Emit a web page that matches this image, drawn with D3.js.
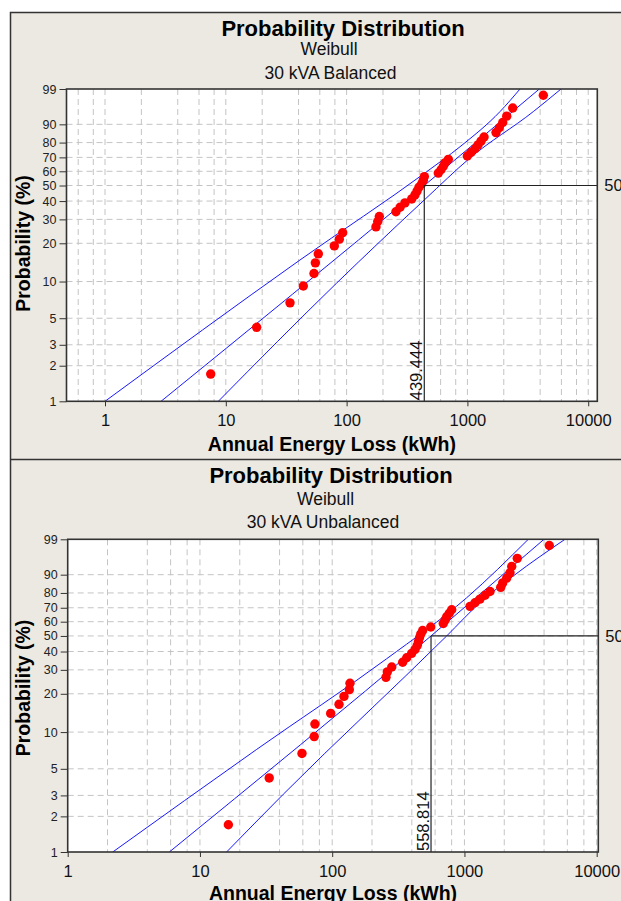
<!DOCTYPE html>
<html><head><meta charset="utf-8">
<script src="https://cdn.jsdelivr.net/npm/d3@7"></script>
<style>body{margin:0;background:#fff;} svg{display:block;}</style>
</head><body>
<svg id="chart" width="621" height="901"></svg>
<script>
// ---------------- data ----------------
const probTicks = [1, 2, 3, 5, 10, 20, 30, 40, 50, 60, 70, 80, 90, 99];
const lossTicks = [1, 10, 100, 1000, 10000];
const medianLevel = 50;

// plotting positions (%) (same for both panels)
const plotPositions = [1.7, 4.2, 6.7, 9.2, 11.6, 14.1, 16.6, 19.1, 21.5, 24.0,
  26.5, 29.0, 31.4, 33.9, 36.4, 38.9, 41.3, 43.8, 46.3, 48.8,
  51.2, 53.7, 56.2, 58.7, 61.1, 63.6, 66.1, 68.6, 71.0, 73.5,
  76.0, 78.5, 80.9, 83.4, 85.9, 88.4, 90.8, 93.3, 95.8, 98.3];

// 30 kVA Balanced
const balancedLoss = [7.5, 18.0, 34.0, 43.8, 53.7, 55.1, 58.3, 79.1, 87.0, 92.8,
  175, 181, 186.5, 256, 277, 304, 346, 368, 383, 397,
  418.5, 431.5, 440, 574, 605, 632, 652, 695, 998, 1071,
  1156, 1224, 1296, 1373, 1725, 1837, 1960, 2115, 2371, 4250];
const balancedRange = [0.48, 11890];
const balancedMedian = 439.444;
const balancedFit = [[2.91, 1], [439.444, 50], [3937, 99]];
const balancedUpper = [[1, 1], [41.1, 14.85], [460, 59.7], [868, 77.3], [1862, 94.8], [2725, 99]];
const balancedLower = [[8.67, 1], [82.8, 9.73], [446, 41.1], [1051, 69.6], [3512, 94.8], [5955, 99]];

// 30 kVA Unbalanced
const unbalancedLoss = [16.4, 33.4, 59.1, 73.1, 74, 97.4, 112.6, 122.8, 134.7, 136.3,
  255, 261, 282, 341, 366, 399, 423, 440, 449, 457,
  467, 483, 556, 692, 713, 734, 768, 801, 1102, 1202,
  1311, 1430, 1561, 1880, 1946, 2087, 2210, 2277, 2509, 4381];
const unbalancedRange = [1, 10283];
const unbalancedMedian = 558.814;
const unbalancedFit = [[5.87, 1], [558.814, 50], [3995, 99]];
const unbalancedUpper = [[2.19, 1], [26.9, 7.24], [258, 35.8], [1040, 76.9], [3039, 99]];
const unbalancedLower = [[15.9, 1], [42.7, 3.07], [734, 50], [1311, 73.5], [2341, 89.4], [5758, 99]];

const chartTitle = "Probability Distribution";
const distName = "Weibull";
const xTitle = "Annual Energy Loss (kWh)";
const yTitle = "Probability (%)";

// ---------------- layout ----------------
const FONT = "'Liberation Sans', Arial, sans-serif";
const BG = "#ECE9E2";
const layouts = [
  {x0: 66.5, x1: 597.3, y0: 89, y1: 401.3, titleX: 343, titleY: 35.5, distX: 329, distY: 55,
   subX: 330.5, subY: 78.5, xLabelY: 451, yLabelX: 30, yLabelY: 243.5},
  {x0: 67.7, x1: 598.3, y0: 539.3, y1: 852, titleX: 331, titleY: 482.5, distX: 325.5, distY: 505,
   subX: 323, subY: 527.5, xLabelY: 900, yLabelX: 30, yLabelY: 688}
];
const panels = [
  {sub: "30 kVA Balanced", loss: balancedLoss, range: balancedRange, median: balancedMedian,
   fit: balancedFit, upper: balancedUpper, lower: balancedLower},
  {sub: "30 kVA Unbalanced", loss: unbalancedLoss, range: unbalancedRange, median: unbalancedMedian,
   fit: unbalancedFit, upper: unbalancedUpper, lower: unbalancedLower}
];

const svg = d3.select("#chart");
svg.append("rect").attr("width", 621).attr("height", 901).attr("fill", "#fff");
svg.append("rect").attr("x", 10.5).attr("y", 12.5).attr("width", 700).attr("height", 1000)
  .attr("fill", BG).attr("stroke", "#333").attr("stroke-width", 1.5);
svg.append("line").attr("x1", 10.5).attr("x2", 621).attr("y1", 459.5).attr("y2", 459.5)
  .attr("stroke", "#333").attr("stroke-width", 1.5);

const weib = p => Math.log(-Math.log(1 - p / 100));

panels.forEach((P, k) => {
  const L = layouts[k];
  const g = svg.append("g");
  const x = d3.scaleLog().domain(P.range).range([L.x0, L.x1]);
  const yl = d3.scaleLinear().domain([weib(1), weib(99)]).range([L.y1, L.y0]);
  const y = p => yl(weib(p));

  // texts
  g.append("text").attr("x", L.titleX).attr("y", L.titleY).attr("text-anchor", "middle")
    .attr("font-family", FONT).attr("font-weight", "bold").attr("font-size", 22).attr("fill", "#000").text(chartTitle);
  g.append("text").attr("x", L.distX).attr("y", L.distY).attr("text-anchor", "middle")
    .attr("font-family", FONT).attr("font-size", 17.5).attr("fill", "#111").text(distName);
  g.append("text").attr("x", L.subX).attr("y", L.subY).attr("text-anchor", "middle")
    .attr("font-family", FONT).attr("font-size", 17.5).attr("fill", "#111").text(P.sub);
  g.append("text").attr("x", (L.x0 + L.x1) / 2).attr("y", L.xLabelY).attr("text-anchor", "middle")
    .attr("font-family", FONT).attr("font-weight", "bold").attr("font-size", 19.5).attr("fill", "#000").text(xTitle);
  g.append("text").attr("transform", `translate(${L.yLabelX},${L.yLabelY}) rotate(-90)`).attr("text-anchor", "middle")
    .attr("font-family", FONT).attr("font-weight", "bold").attr("font-size", 19.5).attr("fill", "#000").text(yTitle);

  // plot background
  g.append("rect").attr("x", L.x0).attr("y", L.y0).attr("width", L.x1 - L.x0).attr("height", L.y1 - L.y0)
    .attr("fill", "#fff");

  // grid
  const gridVals = [];
  [0.1, 1, 10, 100, 1000].forEach(d => [2, 4, 6, 8, 10].forEach(m => {
    const v = d * m;
    if (v > P.range[0] * 1.05 && v < P.range[1]) gridVals.push(v);
  }));
  const grid = g.append("g").attr("stroke", "#c4c4c4").attr("stroke-width", 1).attr("stroke-dasharray", "6,4");
  grid.selectAll("line.v").data(gridVals).join("line").attr("class", "v")
    .attr("x1", d => x(d)).attr("x2", d => x(d)).attr("y1", L.y0).attr("y2", L.y1);
  grid.selectAll("line.h").data(probTicks.filter(p => p > 1 && p < 99)).join("line").attr("class", "h")
    .attr("x1", L.x0).attr("x2", L.x1).attr("y1", d => y(d)).attr("y2", d => y(d));

  // clip
  const cid = "clip" + k;
  g.append("clipPath").attr("id", cid).append("rect")
    .attr("x", L.x0).attr("y", L.y0).attr("width", L.x1 - L.x0).attr("height", L.y1 - L.y0);
  const inner = g.append("g").attr("clip-path", `url(#${cid})`);

  const line = d3.line().x(d => x(d[0])).y(d => y(d[1])).curve(d3.curveMonotoneX);
  [P.upper, P.fit, P.lower].forEach(arr => {
    inner.append("path").attr("d", line(arr)).attr("fill", "none").attr("stroke", "#1818ff").attr("stroke-width", 1);
  });

  // median reference lines
  const mx = x(P.median), my = y(medianLevel);
  g.append("line").attr("x1", mx).attr("x2", L.x1).attr("y1", my).attr("y2", my).attr("stroke", "#222").attr("stroke-width", 1.2);
  g.append("line").attr("x1", mx).attr("x2", mx).attr("y1", my).attr("y2", L.y1).attr("stroke", "#222").attr("stroke-width", 1.2);
  g.append("text").attr("transform", `translate(${mx - 2.5},${L.y1 - 1}) rotate(-90)`)
    .attr("font-family", FONT).attr("font-size", 16.5).attr("fill", "#111").text(d3.format(".3f")(P.median));
  g.append("text").attr("x", L.x1 + 7).attr("y", my).attr("dy", "0.36em")
    .attr("font-family", FONT).attr("font-size", 16.5).attr("fill", "#111").text(String(medianLevel));

  // points
  inner.selectAll("circle").data(P.loss).join("circle")
    .attr("cx", d => x(d)).attr("cy", (d, i) => y(plotPositions[i])).attr("r", 4.7).attr("fill", "#ff0000");

  // border
  g.append("rect").attr("x", L.x0).attr("y", L.y0).attr("width", L.x1 - L.x0).attr("height", L.y1 - L.y0)
    .attr("fill", "none").attr("stroke", "#333").attr("stroke-width", 1.6);

  // axes
  const ax = g.append("g").attr("transform", `translate(0,${L.y1})`)
    .call(d3.axisBottom(x).tickValues(lossTicks).tickFormat(d3.format("d")).tickSize(5).tickPadding(7.8));
  ax.select(".domain").remove();
  ax.selectAll("text").attr("font-family", FONT).attr("font-size", 16.5).attr("fill", "#111");
  ax.selectAll("line").attr("stroke", "#333");

  const ay = g.append("g").attr("transform", `translate(${L.x0},0)`)
    .call(d3.axisLeft(yl).tickValues(probTicks.map(weib)).tickFormat((d, i) => probTicks[i]).tickSize(7).tickPadding(3));
  ay.select(".domain").remove();
  ay.selectAll("text").attr("font-family", FONT).attr("font-size", 12.5).attr("fill", "#222");
  ay.selectAll("line").attr("stroke", "#333");
});
</script>
</body></html>
